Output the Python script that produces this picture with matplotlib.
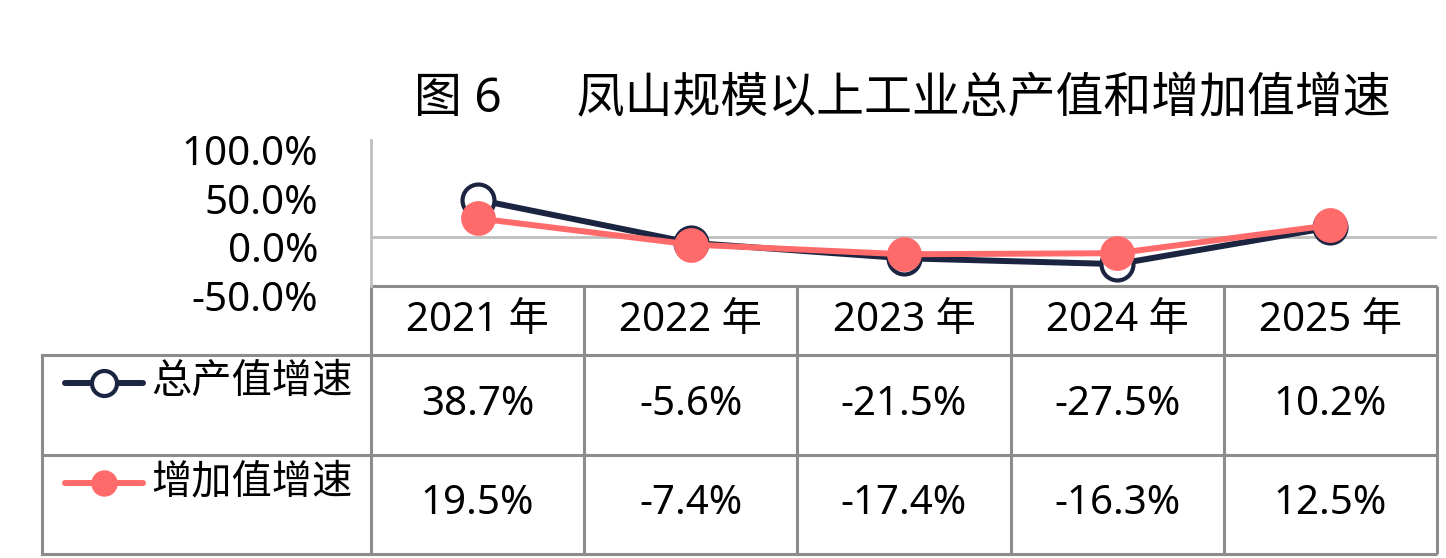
import numpy as np
import matplotlib
matplotlib.use("Agg")
import matplotlib.pyplot as plt
from matplotlib.transforms import blended_transform_factory, ScaledTranslation

# =====================================================
# DATA
# =====================================================

years = ["2021 年", "2022 年", "2023 年", "2024 年", "2025 年"]
gross_growth = [38.7, -5.6, -21.5, -27.5, 10.2]   # 总产值增速 (%)
added_growth = [19.5, -7.4, -17.4, -16.3, 12.5]   # 增加值增速 (%)
series_names = ["总产值增速", "增加值增速"]
y_ticks = [-50, 0, 50, 100]
title = "图 6      凤山规模以上工业总产值和增加值增速"

# =====================================================
# STYLE / LAYOUT (pixels)
# =====================================================

NAVY = "#1B2541"
PINK = "#FF6B6B"
AXIS_GRAY = "#BFBFBF"
TABLE_GRAY = "#8C8C8C"

W, H = 1446, 558
plot_l, plot_r, plot_t, plot_b = 371, 1437, 140, 286
tab_l = 42
row_edges = [286, 355, 455, 554]
FS = 29

plt.rcParams["font.family"] = ["Noto Sans", "Noto Sans CJK SC", "DejaVu Sans"]

fig = plt.figure(figsize=(W / 100, H / 100), dpi=100)

# overlay in pixel units for the table and title
over = fig.add_axes([0, 0, 1, 1])
over.set_xlim(0, W)
over.set_ylim(H, 0)
over.axis("off")

ax = fig.add_axes([plot_l / W, 1 - plot_b / H, (plot_r - plot_l) / W, (plot_b - plot_t) / H])
ax.patch.set_visible(False)

x = np.arange(len(years))
ax.plot(x, gross_growth, color=NAVY, lw=4.3, marker="o", ms=23, mfc="white",
        mec=NAVY, mew=3, zorder=3, clip_on=False)
ax.plot(x, added_growth, color=PINK, lw=4.3, marker="o", ms=24.5, mfc=PINK,
        mec=PINK, mew=0.5, zorder=4, clip_on=False)
ax.axhline(0, color=AXIS_GRAY, lw=2, zorder=1)

ax.set_xlim(-0.5, len(years) - 0.5)
ax.set_ylim(-50, 100)
ax.set_xticks([])
ax.set_yticks(y_ticks)
ax.set_yticklabels([f"{v:.1f}%" for v in y_ticks], fontsize=FS)
ax.tick_params(axis="y", length=0, pad=38)
shift = ScaledTranslation(0, -10 / 100, fig.dpi_scale_trans)
for lab in ax.get_yticklabels():
    lab.set_transform(lab.get_transform() + shift)

for s in ["top", "right", "bottom"]:
    ax.spines[s].set_visible(False)
ax.spines["left"].set_color(AXIS_GRAY)
ax.spines["left"].set_linewidth(2)

# =====================================================
# DATA TABLE
# =====================================================

blend = blended_transform_factory(ax.transData, over.transData)
edges = np.arange(len(years) + 1) - 0.5
x_right = edges[-1]

lw_t = 2.2
# header row
over.hlines(row_edges[0], edges[0], x_right, color=TABLE_GRAY, lw=lw_t, transform=blend)
over.vlines(edges, row_edges[0], row_edges[-1], color=TABLE_GRAY, lw=lw_t, transform=blend)
# body rows
for yy in row_edges[1:]:
    over.plot([tab_l, plot_l], [yy, yy], color=TABLE_GRAY, lw=lw_t, solid_capstyle="projecting")
    over.hlines(yy, edges[0], x_right, color=TABLE_GRAY, lw=lw_t, transform=blend)
over.vlines(tab_l, row_edges[1], row_edges[-1], color=TABLE_GRAY, lw=lw_t)

for i, yr in enumerate(years):
    over.text(i, (row_edges[0] + row_edges[1]) / 2, yr, transform=blend,
              ha="center", va="center", fontsize=FS)

rows = [gross_growth, added_growth]
for r, vals in enumerate(rows):
    yc = (row_edges[r + 1] + row_edges[r + 2]) / 2
    for i, v in enumerate(vals):
        over.text(i, yc, f"{v:.1f}%", transform=blend, ha="center", va="center", fontsize=FS)

# legend keys in the first column
key_y = [383, 483]
over.plot([65, 143], [key_y[0]] * 2, color=NAVY, lw=4.3, solid_capstyle="round")
over.plot([104], [key_y[0]], marker="o", ms=18, mfc="white", mec=NAVY, mew=3, ls="none")
over.plot([65, 143], [key_y[1]] * 2, color=PINK, lw=4.3, solid_capstyle="round")
over.plot([104], [key_y[1]], marker="o", ms=18, mfc=PINK, mec=PINK, ls="none")
for name, yy in zip(series_names, key_y):
    over.text(151, yy, name, ha="left", va="center", fontsize=FS)

# title
over.text(902, 100, title, ha="center", va="center", fontsize=34.5)

fig.savefig("out.png", dpi=100)
